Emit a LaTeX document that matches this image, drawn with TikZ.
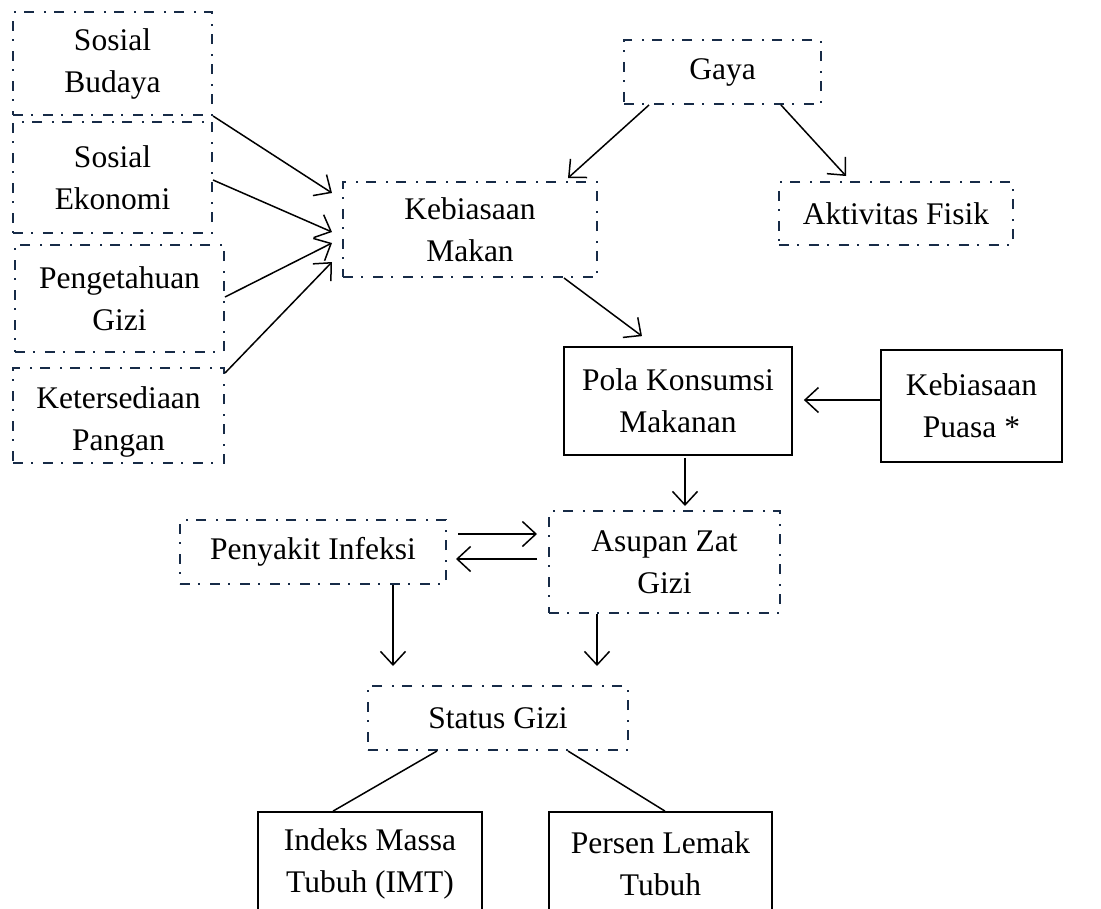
\documentclass[tikz,border=0pt]{standalone}
\usepackage{fontspec}
\setmainfont{Liberation Serif}
\usetikzlibrary{arrows.meta}
\definecolor{boxline}{RGB}{23,43,71}

\begin{document}
\begin{tikzpicture}
[x=0.4pt, y=-0.4pt,
every node/.style={inner sep=0pt, align=center, font=\fontsize{12.6}{16.8}\selectfont},
% The factor style is used for the dash-dot boxes
factor/.style={rectangle, draw=boxline, line width=0.8pt, dash pattern=on 4pt off 3.2pt on 0.8pt off 4pt},
% The main style is used for the solid boxes
main/.style={rectangle, draw=black, line width=0.7pt},
link/.style={-{Straight Barb[length=5.4pt,width=10pt]}, line width=0.6pt}
]
\useasboundingbox (0,0) rectangle (1101,908);
\clip (0,0) rectangle (1101,908);
% Draw boxes
\node[factor, minimum width=79.6pt, minimum height=41.2pt] (budaya) at (112.5,63.5) {Sosial\\Budaya};
\node[factor, minimum width=79.6pt, minimum height=44.4pt] (ekonomi) at (112.5,177.5) {Sosial\\Ekonomi};
\node[factor, minimum width=83.6pt, minimum height=42.8pt] (tahu) at (119.5,298.5) {Pengetahuan\\Gizi};
\node[factor, minimum width=84.4pt, minimum height=38pt] (sedia) at (118.5,415.5) {\rule{0pt}{14pt}Ketersediaan\\Pangan};
\node[factor, minimum width=101.6pt, minimum height=38pt] (kebiasaan) at (470,229.5) {Kebiasaan\\Makan};
\node[factor, minimum width=78.8pt, minimum height=25.6pt] (gaya) at (722.5,72) {Gaya};
\node[factor, minimum width=93.6pt, minimum height=25.2pt] (fisik) at (896,213.5) {Aktivitas Fisik};
\node[main, minimum width=91.2pt, minimum height=43.2pt] (pola) at (678,401) {Pola Konsumsi\\Makanan};
\node[main, minimum width=72.4pt, minimum height=44.8pt] (puasa) at (971.5,406) {Kebiasaan\\Puasa *};
\node[factor, minimum width=106.4pt, minimum height=25.6pt] (infeksi) at (313,552) {Penyakit Infeksi};
\node[factor, minimum width=92.4pt, minimum height=40.8pt] (asupan) at (664.5,562) {Asupan Zat\\Gizi};
\node[factor, minimum width=104pt, minimum height=25.6pt] (status) at (498,718) {Status Gizi};
\node[main, minimum width=89.6pt, minimum height=41.6pt] (imt) at (370,864) {Indeks Massa\\Tubuh (IMT)};
\node[main, minimum width=89.2pt, minimum height=41.6pt] (lemak) at (660.5,864) {Persen Lemak\\Tubuh};
% Draw arrows
\draw[link] (budaya.south east) -- ([shift={(-10,-36.5)}]kebiasaan.west);
\draw[link] ([shift={(0,2.5)}]ekonomi.east) -- ([shift={(-10,2.5)}]kebiasaan.west);
\draw[link] ([shift={(0,-1.5)}]tahu.east) -- ([shift={(-10,13.5)}]kebiasaan.west);
\draw[link] ([shift={(0,6)}]sedia.north east) -- ([shift={(-10,32.5)}]kebiasaan.west);
\draw[link] ([shift={(-73.5,0)}]gaya.south) -- ([shift={(-30,-3)}]kebiasaan.north east);
\draw[link] ([shift={(58.5,0)}]gaya.south) -- ([shift={(-50,-5)}]fisik.north);
\draw[link] ([shift={(-34,0)}]kebiasaan.south east) -- ([shift={(-36,-10)}]pola.north);
\draw[link] ([shift={(0,-6)}]puasa.west) -- ([shift={(11,-1)}]pola.east);
\draw[link] ([shift={(7,2)}]pola.south) -- ([shift={(20.5,-4)}]asupan.north);
\draw[link] ([shift={(11,-18)}]infeksi.east) -- ([shift={(-11,-28)}]asupan.west);
\draw[link] ([shift={(-11,-3)}]asupan.west) -- ([shift={(9,7)}]infeksi.east);
\draw[link] ([shift={(80,0)}]infeksi.south) -- ([shift={(-105,-19)}]status.north);
\draw[link] ([shift={(-67.5,0)}]asupan.south) -- ([shift={(99,-19)}]status.north);
% Lines to the measures
\draw[line width=0.6pt] ([shift={(-61,0)}]status.south) -- ([shift={(-37,0)}]imt.north);
\draw[line width=0.6pt] ([shift={(70,0)}]status.south) -- ([shift={(4.5,0)}]lemak.north);
\end{tikzpicture}
\end{document}
